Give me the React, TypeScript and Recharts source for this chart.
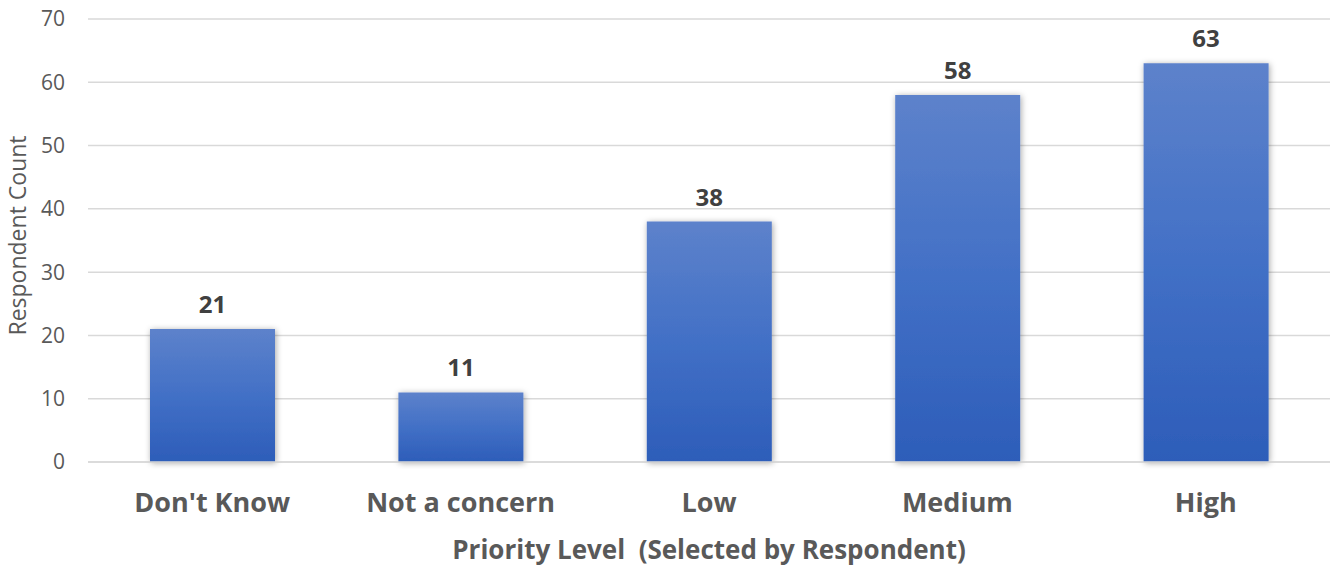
import { BarChart, Bar, XAxis, YAxis, CartesianGrid, LabelList } from 'recharts';

const categories = ["Don't Know", 'Not a concern', 'Low', 'Medium', 'High'];
const respondentCounts = [21, 11, 38, 58, 63];
const yTicks = [0, 10, 20, 30, 40, 50, 60, 70];

const chartData = categories.map((name, i) => ({
  name,
  count: respondentCounts[i],
}));

const FONT = '"Open Sans", "Noto Sans", sans-serif';

function YTitle(props: any) {
  const { viewBox } = props;
  const cy = viewBox.y + viewBox.height / 2 - 5;
  const cx = 17;
  return (
    <text
      x={cx}
      y={cy}
      transform={`rotate(-90, ${cx}, ${cy})`}
      textAnchor="middle"
      dominantBaseline="central"
      fontFamily={FONT}
      fontSize={23}
      fill="#595959"
    >
      Respondent Count
    </text>
  );
}

export default function App() {
  return (
    <div style={{ position: 'absolute', left: 0, top: 0, width: 1335, height: 567, background: '#fff' }}>
      <BarChart
        width={1335}
        height={567}
        data={chartData}
        margin={{ top: 19, right: 5, bottom: 0, left: 0 }}
      >
        <defs>
          <linearGradient id="barFill" x1="0" y1="0" x2="0" y2="1">
            <stop offset="0%" stopColor="#5d82cb" />
            <stop offset="50%" stopColor="#4270c6" />
            <stop offset="100%" stopColor="#2d5db9" />
          </linearGradient>
          <filter id="barShadow" x="-20%" y="-10%" width="140%" height="120%">
            <feDropShadow dx="1" dy="1" stdDeviation="3" floodColor="#000" floodOpacity="0.35" />
          </filter>
        </defs>
        <CartesianGrid vertical={false} stroke="#d9d9d9" strokeWidth={1.5} />
        <XAxis
          dataKey="name"
          height={105}
          tickLine={false}
          axisLine={{ stroke: '#d9d9d9', strokeWidth: 1.5 }}
          tickMargin={25}
          interval={0}
          tick={{ fontFamily: FONT, fontSize: 27, fontWeight: 700, fill: '#595959' }}
          label={{
            value: 'Priority Level\u00a0\u00a0(Selected by Respondent)',
            position: 'insideBottom',
            offset: 8,
            style: { fontFamily: FONT, fontSize: 26, fontWeight: 700, fill: '#595959' },
          }}
        />
        <YAxis
          width={88}
          domain={[0, 70]}
          ticks={yTicks}
          tickLine={false}
          axisLine={false}
          tickMargin={17}
          tick={{ fontFamily: FONT, fontSize: 21, fill: '#595959' }}
          label={<YTitle />}
        />
        <Bar
          dataKey="count"
          fill="url(#barFill)"
          barSize={125}
          filter="url(#barShadow)"
          isAnimationActive={false}
        >
          <LabelList
            dataKey="count"
            position="top"
            offset={16}
            style={{ fontFamily: FONT, fontSize: 24, fontWeight: 700, fill: '#404040' }}
          />
        </Bar>
      </BarChart>
    </div>
  );
}
